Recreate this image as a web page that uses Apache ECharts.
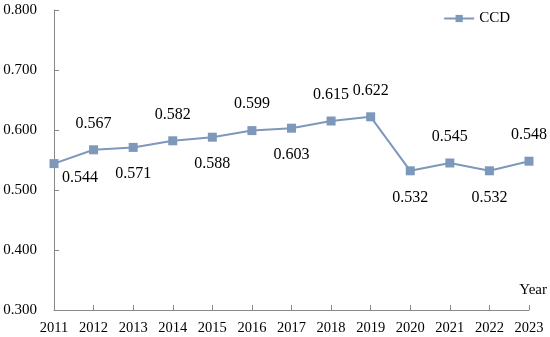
<!DOCTYPE html>
<html><head><meta charset="utf-8">
<script src="https://cdn.jsdelivr.net/npm/echarts@6/dist/echarts.min.js"></script>
<style>html,body{margin:0;padding:0;background:#fff}#c{width:550px;height:337px}</style>
</head><body><div id="c"></div>
<script>
const years = ['2011','2012','2013','2014','2015','2016','2017','2018','2019','2020','2021','2022','2023'];
const ccd = [0.544,0.567,0.571,0.582,0.588,0.599,0.603,0.615,0.622,0.532,0.545,0.532,0.548];
const labelPos = ['bottom','top','bottom','top','bottom','top','bottom','top','top','bottom','top','bottom','top'];
const font = '"Liberation Serif","Times New Roman",serif';
const col = '#7d98ba';
const data = ccd.map((v,i)=>{
  const o = {value:v, label:{position:labelPos[i], distance:14}};
  if(i===0){o.label.offset=[26,-12];}
  return o;
});
const chart = echarts.init(document.getElementById('c'));
chart.setOption({
  animation:false,
  grid:{left:54,right:21,top:10,bottom:27},
  legend:{data:['CCD'],right:35,top:6,itemWidth:30,itemHeight:9,itemGap:4,
    textStyle:{fontFamily:font,fontSize:15,color:'#000'}},
  xAxis:{type:'category',data:years,boundaryGap:false,
    axisLine:{lineStyle:{color:'#888'}},
    axisTick:{inside:true,length:5,lineStyle:{color:'#888'}},
    axisLabel:{fontFamily:font,fontSize:14.5,color:'#000',margin:11}},
  yAxis:{type:'value',min:0.3,max:0.8,interval:0.1,
    axisLine:{show:true,lineStyle:{color:'#888'}},
    axisTick:{show:true,inside:true,length:5,lineStyle:{color:'#888'}},
    splitLine:{show:false},
    axisLabel:{fontFamily:font,fontSize:15,color:'#000',margin:17,formatter:v=>v.toFixed(3)}},
  graphic:[{type:'text',right:3,top:283,style:{text:'Year',font:'15px '+font,fill:'#000'}}],
  series:[{name:'CCD',type:'line',data:data,symbol:'rect',symbolSize:9,
    lineStyle:{color:col,width:2},itemStyle:{color:col},
    label:{show:true,fontFamily:font,fontSize:16,color:'#000',formatter:p=>p.value.toFixed(3)}}]
});
</script></body></html>
